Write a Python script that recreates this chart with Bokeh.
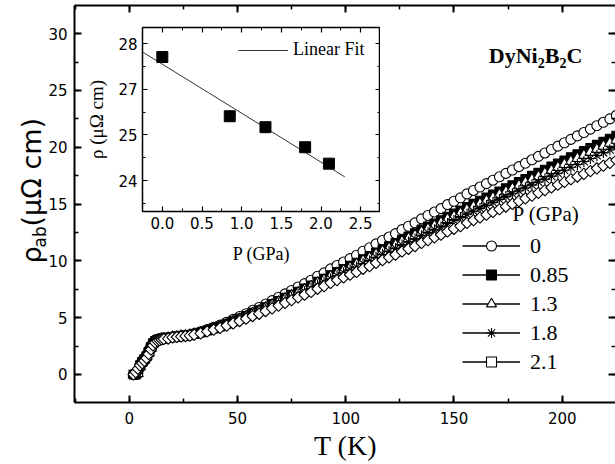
import math
from bokeh.plotting import figure
from bokeh.models import (Range1d, LinearAxis, SingleIntervalTicker, FixedTicker, Label,
                          Legend, LegendItem, CustomJSTickFormatter, PrintfTickFormatter)
from bokeh.layouts import column
from bokeh.embed import file_html
from bokeh.resources import INLINE

# ---------------- data ----------------
T = [2, 3, 4, 5, 6, 7, 8, 9, 10, 11, 12, 13, 14, 15, 16, 18, 20, 22, 24, 26, 28, 30,
     33, 36, 39, 42, 45, 48, 51, 54, 57, 60, 63, 66, 69, 72, 75, 78, 81, 84, 87, 90,
     93, 96, 99, 102, 105, 108, 111, 114, 117, 120, 123, 126, 129, 132, 135, 138, 141,
     144, 147, 150, 153, 156, 159, 162, 165, 168, 171, 174, 177, 180, 183, 186, 189,
     192, 195, 198, 201, 204, 207, 210, 213, 216, 219, 222, 225]

rho_p0 = [0.0, 0.0, 0.3, 0.9, 1.2, 1.4, 1.7, 2.1, 2.5, 2.8, 3.0, 3.1, 3.15, 3.2, 3.2, 3.25,
          3.3, 3.35, 3.4, 3.45, 3.5, 3.6,
          3.75, 3.95, 4.15, 4.35, 4.6, 4.85, 5.1, 5.35, 5.65, 5.9,
          6.2, 6.5, 6.8, 7.1, 7.4, 7.7, 8.0, 8.3, 8.65, 8.95,
          9.3, 9.6, 9.9, 10.2, 10.5, 10.85, 11.15, 11.5, 11.8, 12.1,
          12.4, 12.75, 13.05, 13.35, 13.7, 14.0, 14.3, 14.6, 14.95, 15.25,
          15.55, 15.9, 16.2, 16.5, 16.8, 17.1, 17.4, 17.7, 18.0, 18.3,
          18.6, 18.9, 19.2, 19.5, 19.8, 20.1, 20.4, 20.7, 21.0, 21.3,
          21.6, 21.9, 22.2, 22.5, 22.8]

rho_p085 = [0.0, 0.0, 0.2, 0.8, 1.1, 1.35, 1.6, 2.0, 2.4, 2.75, 2.95, 3.05, 3.1, 3.15, 3.18, 3.22,
            3.28, 3.33, 3.37, 3.42, 3.46, 3.56,
            3.69, 3.87, 4.06, 4.24, 4.47, 4.69, 4.92, 5.15, 5.42, 5.65,
            5.92, 6.19, 6.47, 6.74, 7.01, 7.29, 7.56, 7.83, 8.15, 8.42,
            8.74, 9.02, 9.29, 9.56, 9.83, 10.15, 10.43, 10.74, 11.02, 11.29,
            11.56, 11.88, 12.15, 12.43, 12.75, 13.02, 13.29, 13.57, 13.88, 14.16,
            14.43, 14.75, 15.02, 15.29, 15.57, 15.84, 16.11, 16.39, 16.66, 16.93,
            17.21, 17.48, 17.75, 18.02, 18.30, 18.57, 18.84, 19.12, 19.39, 19.66,
            19.94, 20.21, 20.48, 20.75, 21.02]

rho_p13 = [0.0, 0.0, 0.1, 0.7, 1.1, 1.3, 1.55, 1.9, 2.3, 2.7, 2.9, 3.0, 3.08, 3.12, 3.16, 3.2,
           3.28, 3.32, 3.37, 3.41, 3.46, 3.55,
           3.68, 3.86, 4.03, 4.21, 4.44, 4.66, 4.88, 5.10, 5.37, 5.59,
           5.86, 6.13, 6.39, 6.66, 6.93, 7.19, 7.46, 7.73, 8.04, 8.31,
           8.62, 8.89, 9.15, 9.42, 9.69, 10.0, 10.26, 10.58, 10.84, 11.11,
           11.38, 11.69, 11.96, 12.22, 12.53, 12.80, 13.07, 13.34, 13.65, 13.91,
           14.18, 14.49, 14.76, 15.03, 15.29, 15.56, 15.83, 16.09, 16.36, 16.63,
           16.90, 17.16, 17.43, 17.70, 17.96, 18.23, 18.50, 18.76, 19.03, 19.30,
           19.57, 19.83, 20.10, 20.37, 20.63]

rho_p18 = [0.0, 0.0, 0.1, 0.6, 1.0, 1.25, 1.5, 1.85, 2.25, 2.6, 2.85, 3.0, 3.05, 3.1, 3.14, 3.18,
           3.27, 3.32, 3.36, 3.40, 3.44, 3.53,
           3.66, 3.83, 4.00, 4.18, 4.39, 4.61, 4.82, 5.04, 5.29, 5.51,
           5.77, 6.02, 6.28, 6.54, 6.80, 7.06, 7.31, 7.57, 7.87, 8.13,
           8.43, 8.69, 8.95, 9.21, 9.46, 9.77, 10.02, 10.32, 10.58, 10.84,
           11.10, 11.40, 11.66, 11.92, 12.22, 12.47, 12.73, 12.99, 13.29, 13.55,
           13.81, 14.11, 14.37, 14.62, 14.88, 15.14, 15.40, 15.66, 15.91, 16.17,
           16.43, 16.69, 16.95, 17.20, 17.46, 17.72, 17.98, 18.24, 18.49, 18.75,
           19.01, 19.27, 19.53, 19.78, 20.04]

rho_p21 = [0.0, 0.2, 0.5, 0.8, 1.0, 1.2, 1.45, 1.8, 2.2, 2.55, 2.8, 2.95, 3.02, 3.08, 3.12, 3.16,
           3.26, 3.30, 3.34, 3.38, 3.42, 3.50,
           3.62, 3.78, 3.94, 4.10, 4.30, 4.50, 4.70, 4.90, 5.14, 5.34,
           5.58, 5.82, 6.06, 6.30, 6.54, 6.78, 7.02, 7.26, 7.54, 7.78,
           8.06, 8.30, 8.54, 8.78, 9.02, 9.30, 9.54, 9.82, 10.06, 10.30,
           10.54, 10.82, 11.06, 11.30, 11.58, 11.82, 12.06, 12.30, 12.58, 12.82,
           13.06, 13.34, 13.58, 13.82, 14.06, 14.30, 14.54, 14.78, 15.02, 15.26,
           15.50, 15.74, 15.98, 16.22, 16.46, 16.70, 16.94, 17.18, 17.42, 17.66,
           17.90, 18.14, 18.38, 18.62, 18.86]

pressure_labels = ["0", "0.85", "1.3", "1.8", "2.1"]

# inset
P_inset = [0.0, 0.85, 1.3, 1.8, 2.1]
rho_inset = [27.71, 26.41, 26.17, 25.73, 25.37]
fit_P = [-0.25, 2.3]
fit_rho = [27.82, 25.08]
inset_yticks = [25, 26, 27, 28]
inset_ytick_labels = {25: "24", 26: "25", 27: "27", 28: "28"}

SANS = "DejaVu Sans"
SERIF = "Liberation Serif"
W, H = 615, 464
FL, FB = 74, 402   # main frame left / bottom in page pixels

# ---------------- main figure ----------------
p = figure(width=W, height=H, x_range=Range1d(-25.27, 224.6), y_range=Range1d(-2.465, 32.48),
           output_backend="svg", toolbar_location=None,
           x_axis_location=None, y_axis_location=None,
           min_border_left=FL, min_border_right=0, min_border_top=5, min_border_bottom=H - FB)
p.outline_line_color = None
p.xgrid.visible = False
p.ygrid.visible = False
p.background_fill_color = "white"
p.border_fill_color = "white"


def style_axis(ax, show_labels, line=True, standoff=7, size="15px"):
    ax.axis_line_width = 2
    ax.axis_line_color = "black" if line else None
    ax.major_tick_in = 7
    ax.major_tick_out = 0
    ax.minor_tick_in = 4
    ax.minor_tick_out = 0
    ax.major_tick_line_width = 2
    ax.minor_tick_line_width = 1.5
    ax.major_tick_line_color = "black"
    ax.minor_tick_line_color = "black"
    if show_labels:
        ax.major_label_text_font = SANS
        ax.major_label_text_font_size = size
        ax.major_label_text_color = "black"
        ax.major_label_standoff = standoff
    else:
        ax.formatter = CustomJSTickFormatter(code="return ''")
        ax.major_label_standoff = 0
    ax.axis_label = None


xb = LinearAxis(ticker=SingleIntervalTicker(interval=50, num_minor_ticks=2))
style_axis(xb, True, standoff=9)
p.add_layout(xb, "below")
xt = LinearAxis(ticker=SingleIntervalTicker(interval=50, num_minor_ticks=2))
style_axis(xt, False)
p.add_layout(xt, "above")
yl = LinearAxis(ticker=SingleIntervalTicker(interval=5, num_minor_ticks=2))
style_axis(yl, True, standoff=7)
p.add_layout(yl, "left")
yr = LinearAxis(ticker=SingleIntervalTicker(interval=5, num_minor_ticks=2))
style_axis(yr, False, line=False)
p.add_layout(yr, "right")

series = [rho_p0, rho_p085, rho_p13, rho_p18, rho_p21]
marker_styles = [
    dict(marker="circle", size=10, fill_color="white", angle=0.0),
    dict(marker="square", size=9, fill_color="black", angle=0.0),
    dict(marker="triangle", size=11, fill_color="white", angle=0.0),
    dict(marker="asterisk", size=11, fill_color="white", angle=0.0),
    dict(marker="square", size=8, fill_color="white", angle=math.pi / 4),
]

items = []
for rho, ms, lab in zip(series, marker_styles, pressure_labels):
    # line renderer used only for the legend sample (hidden in the plot)
    lr = p.line(T, rho, line_color="black", line_width=1.3, visible=False)
    sr = p.scatter(T, rho, marker=ms["marker"], size=ms["size"], fill_color=ms["fill_color"],
                   line_color="black", line_width=1.1, angle=ms["angle"])
    items.append(LegendItem(label=lab, renderers=[lr, sr]))

leg = Legend(items=items, location=(388, 27.5), glyph_width=58, glyph_height=25,
             label_height=25, spacing=3, padding=0, margin=0, label_standoff=10,
             border_line_color=None, background_fill_alpha=0, click_policy="none",
             label_text_font=SERIF, label_text_font_size="22px", label_text_color="black")
p.add_layout(leg)


def frame_label(text, px, py, size, font=SERIF, style="normal", align="left"):
    """Text inside the main frame; px, py are page pixels from the top-left."""
    p.add_layout(Label(x=px - FL, y=FB - py, x_units="screen", y_units="screen", text=text,
                       text_font=font, text_font_size=f"{size}px", text_font_style=style,
                       text_align=align, text_baseline="alphabetic", text_color="black"))


# compound name with subscripts
frame_label("DyNi", 488.3, 55, 22, style="bold")
frame_label("2", 537.2, 62, 14, style="bold")
frame_label("B", 544.2, 55, 22, style="bold")
frame_label("2", 558.9, 62, 14, style="bold")
frame_label("C", 565.9, 55, 22, style="bold")
# legend title
frame_label("P (GPa)", 512, 213.3, 21)

# ---------------- inset ----------------
IL = 74  # same horizontal borders as the main plot (column aligns them)
ins = figure(width=IL + 238, height=254, x_range=Range1d(-0.25, 2.75), y_range=Range1d(24.32, 28.357),
             output_backend="svg", toolbar_location=None,
             x_axis_location=None, y_axis_location=None,
             min_border_left=IL, min_border_right=0, min_border_top=5, min_border_bottom=65)
ins.xgrid.visible = False
ins.ygrid.visible = False
ins.outline_line_color = "black"
ins.outline_line_width = 1.5
ins.background_fill_color = "white"
ins.border_fill_color = None


def style_inset_axis(ax, show_labels, standoff=5):
    ax.axis_line_color = None
    ax.major_tick_in = 5
    ax.major_tick_out = 0
    ax.minor_tick_in = 3
    ax.minor_tick_out = 0
    ax.major_tick_line_width = 1.2
    ax.minor_tick_line_width = 1
    ax.major_tick_line_color = "black"
    ax.minor_tick_line_color = "black"
    if show_labels:
        ax.major_label_text_font = SANS
        ax.major_label_text_font_size = "15px"
        ax.major_label_text_color = "black"
        ax.major_label_standoff = standoff
    else:
        ax.formatter = CustomJSTickFormatter(code="return ''")
        ax.major_label_standoff = 0


ib = LinearAxis(ticker=SingleIntervalTicker(interval=0.5, num_minor_ticks=2),
                formatter=PrintfTickFormatter(format="%.1f"))
style_inset_axis(ib, True, standoff=5)
ib.axis_label = "P (GPa)"
ib.axis_label_text_font = SERIF
ib.axis_label_text_font_style = "normal"
ib.axis_label_text_font_size = "18px"
ib.axis_label_text_color = "black"
ib.axis_label_standoff = 12
ins.add_layout(ib, "below")
it = LinearAxis(ticker=SingleIntervalTicker(interval=0.5, num_minor_ticks=2))
style_inset_axis(it, False)
ins.add_layout(it, "above")
il = LinearAxis(ticker=FixedTicker(ticks=inset_yticks, minor_ticks=[24.5, 25.5, 26.5, 27.5]))
style_inset_axis(il, True, standoff=5)
il.major_label_overrides = inset_ytick_labels
il.axis_label = "ρ (μΩ cm)"
il.axis_label_text_font = SERIF
il.axis_label_text_font_style = "normal"
il.axis_label_text_font_size = "19px"
il.axis_label_text_color = "black"
il.axis_label_standoff = 8
ins.add_layout(il, "left")
ir = LinearAxis(ticker=FixedTicker(ticks=inset_yticks, minor_ticks=[24.5, 25.5, 26.5, 27.5]))
style_inset_axis(ir, False)
ins.add_layout(ir, "right")

fit_r = ins.line(fit_P, fit_rho, line_color="#333333", line_width=1)
ins.scatter(P_inset, rho_inset, marker="square", size=11, fill_color="black", line_color="black")

ileg = Legend(items=[LegendItem(label="Linear Fit", renderers=[fit_r])], location=(96, 151),
              glyph_width=50, glyph_height=20, label_height=20, padding=0, margin=0, spacing=0,
              label_standoff=5, border_line_color=None, background_fill_alpha=0,
              label_text_font=SERIF, label_text_font_size="18px", label_text_color="black")
ins.add_layout(ileg)

ins.styles = {"position": "absolute", "left": f"{142 - IL}px", "top": "22px"}
layout = column(p, ins, styles={"position": "relative"})

# ---------------- text overlay for the axis titles (coordinates = page pixels) ----------------
OV_DY = 8  # the overlay root sits 8 px lower on the page; compensate
ov = figure(width=W, height=H, x_range=Range1d(0, W), y_range=Range1d(H, 0), title=None,
            output_backend="svg", toolbar_location=None,
            x_axis_location=None, y_axis_location=None, min_border=0,
            min_border_left=0, min_border_right=0, min_border_top=0, min_border_bottom=0)
ov.outline_line_color = None
ov.xgrid.visible = False
ov.ygrid.visible = False
ov.background_fill_color = None
ov.border_fill_color = None


def page_label(text, px, py, size, font=SERIF, angle=0.0, align="left"):
    ov.add_layout(Label(x=px, y=py - OV_DY, text=text, text_font=font, text_font_size=f"{size}px",
                        angle=angle, text_align=align, text_baseline="alphabetic",
                        text_color="black"))


# y-axis title: rho_ab (muOmega cm)
page_label("ρ", 31, 271, 27, font=SANS, angle=math.pi / 2)
page_label("ab", 39, 255, 17, font=SANS, angle=math.pi / 2)
page_label("(μΩ cm)", 31, 234, 27, font=SANS, angle=math.pi / 2)
# x-axis title
page_label("T (K)", 345, 452.5, 28, align="center")

ov.styles = {"position": "absolute", "left": "0px", "top": "0px"}

open("out.html", "w").write(file_html([layout, ov], INLINE))
